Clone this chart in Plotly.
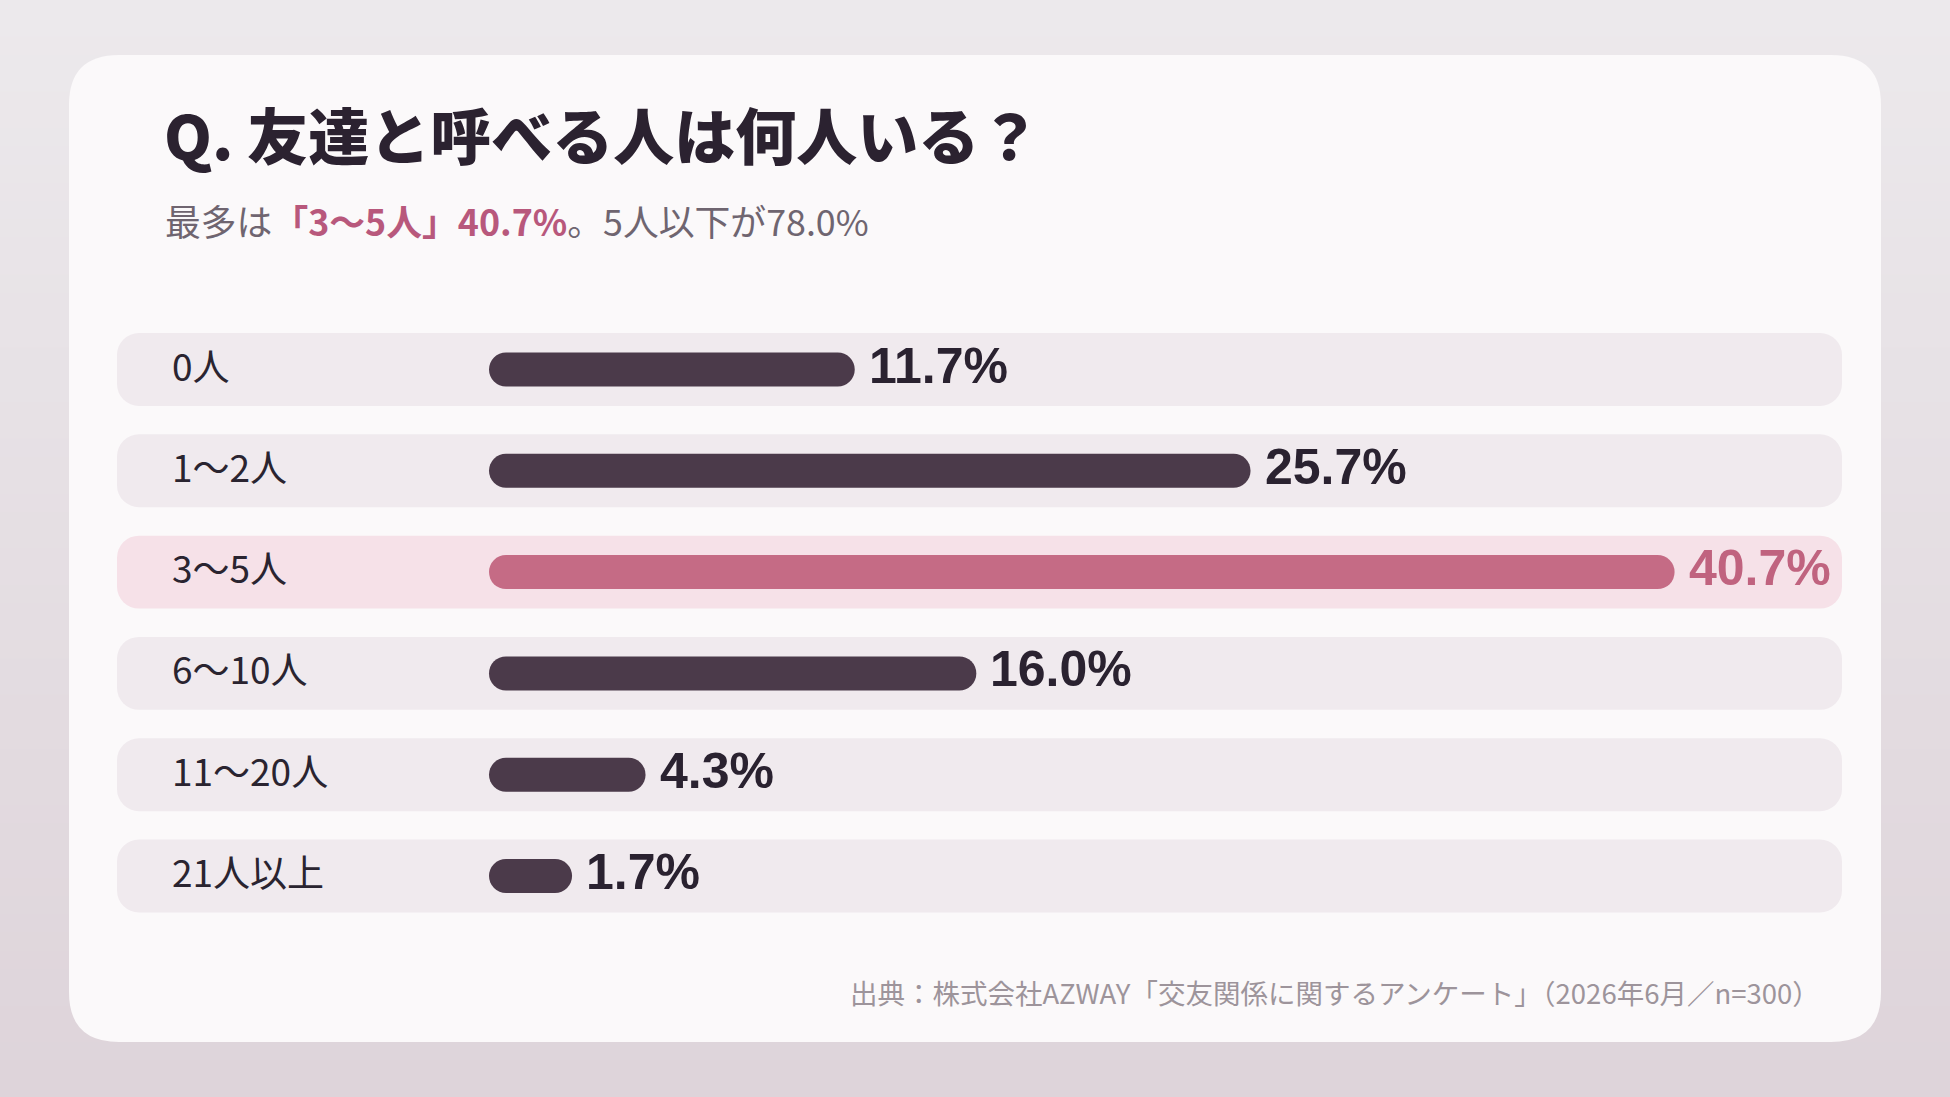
import plotly.graph_objects as go

# data
categories = ['0人', '1〜2人', '3〜5人', '6〜10人', '11〜20人', '21人以上']
shares = [11.7, 25.7, 40.7, 16.0, 4.3, 1.7]

title_text = 'Q. 友達と呼べる人は何人いる？'
subtitle_text = ("最多は<b><span style='color:#b8587c'>「3〜5人」40.7%</span></b>"
                 "。5人以下が78.0%")
source_text = '出典：株式会社AZWAY「交友関係に関するアンケート」（2026年6月／n=300）'

W, H = 1950, 1097
X0_PX, PX_PER = 524.0, 28.27      # pixel of 0% and pixels per 1%
ROW0_PX, ROW_PITCH = 369.5, 101.3  # centre of first row, row step
CAP = 35 / PX_PER                   # rounded-cap offset of each bar

DARK = '#4b3a4a'
PINK = '#c56b85'
ROW_BG = '#f0eaee'
ROW_BG_HI = '#f6e1e8'
JP = 'Noto Sans CJK JP'

top_i = shares.index(max(shares))


def px2x(px):
    return (px - X0_PX) / PX_PER


def px2row(py):
    return (py - ROW0_PX) / ROW_PITCH


def rrect(x0, y0, x1, y1, r):
    # rounded rectangle in paper coordinates from pixel corners
    fx = lambda v: v / W
    fy = lambda v: 1 - v / H
    p = [f'M{fx(x0 + r)},{fy(y0)}', f'L{fx(x1 - r)},{fy(y0)}',
         f'Q{fx(x1)},{fy(y0)} {fx(x1)},{fy(y0 + r)}', f'L{fx(x1)},{fy(y1 - r)}',
         f'Q{fx(x1)},{fy(y1)} {fx(x1 - r)},{fy(y1)}', f'L{fx(x0 + r)},{fy(y1)}',
         f'Q{fx(x0)},{fy(y1)} {fx(x0)},{fy(y1 - r)}', f'L{fx(x0)},{fy(y0 + r)}',
         f'Q{fx(x0)},{fy(y0)} {fx(x0 + r)},{fy(y0)}', 'Z']
    return ' '.join(p)


shapes = []
# soft vertical gradient behind the card
top_c, bot_c = (236, 233, 236), (222, 212, 218)
n_band = 60
for k in range(n_band):
    t = k / (n_band - 1)
    c = tuple(round(a + (b - a) * t) for a, b in zip(top_c, bot_c))
    shapes.append(dict(type='rect', xref='paper', yref='paper', layer='below',
                       x0=0, x1=1, y0=1 - k / n_band, y1=1 - (k + 1) / n_band - 0.001,
                       fillcolor=f'rgb{c}', line=dict(width=0)))
# white card
shapes.append(dict(type='path', xref='paper', yref='paper', layer='below',
                   path=rrect(69, 55, 1881, 1042, 50),
                   fillcolor='#fbf9fa', line=dict(width=0)))

fig = go.Figure()

row_left, row_right = px2x(117), px2x(1842)
fig.add_trace(go.Bar(
    y=categories, x=[row_right - row_left] * len(categories), base=row_left,
    orientation='h', width=0.72,
    marker=dict(color=[ROW_BG_HI if i == top_i else ROW_BG for i in range(len(categories))],
                cornerradius=22, line=dict(width=0)),
    hoverinfo='skip', showlegend=False))

fig.add_trace(go.Bar(
    y=categories, x=[v + CAP for v in shares], base=-CAP,
    orientation='h', width=0.336,
    marker=dict(color=[PINK if i == top_i else DARK for i in range(len(categories))],
                cornerradius=17, line=dict(width=0)),
    hovertemplate='%{y}: %{customdata}%<extra></extra>', customdata=shares,
    showlegend=False))

ann = []
for i, (cat, v) in enumerate(zip(categories, shares)):
    ann.append(dict(x=170 / W, xref='paper', y=cat, yref='y', text=cat,
                    xanchor='left', yanchor='middle', yshift=5, showarrow=False,
                    font=dict(family=JP, size=37, color='#2a2430')))
    ann.append(dict(x=v, xref='x', y=cat, yref='y', text=f'{v:.1f}%',
                    xanchor='left', yanchor='middle', xshift=12, yshift=4, showarrow=False,
                    font=dict(family='Liberation Sans', size=50, weight=700,
                              color='#c0637f' if i == top_i else '#2a2230')))

ann.append(dict(x=162 / W, xref='paper', y=1 - 133 / H, yref='paper', text=title_text,
                xanchor='left', yanchor='middle', showarrow=False,
                font=dict(family=JP, size=61, weight=900, color='#2b2230')))
ann.append(dict(x=163 / W, xref='paper', y=1 - 220 / H, yref='paper', text=subtitle_text,
                xanchor='left', yanchor='middle', showarrow=False,
                font=dict(family=JP, size=35.8, color='#6f6570')))
ann.append(dict(x=1822 / W, xref='paper', y=1 - 992 / H, yref='paper', text=source_text,
                xanchor='right', yanchor='middle', showarrow=False,
                font=dict(family=JP, size=27.5, color='#9d949b')))

fig.update_layout(
    width=W, height=H, margin=dict(l=0, r=0, t=0, b=0),
    paper_bgcolor='#e6e0e4', plot_bgcolor='rgba(0,0,0,0)',
    barmode='overlay', shapes=shapes, annotations=ann,
    xaxis=dict(range=[px2x(0), px2x(W)], visible=False, fixedrange=True),
    yaxis=dict(type='category', categoryorder='array', categoryarray=categories,
               range=[px2row(H), px2row(0)], visible=False, fixedrange=True),
)

# drop the browser's default body margin so the figure fills the window
fig.write_html('out.html', config={'displayModeBar': False},
               post_script="document.body.style.margin='0';")
